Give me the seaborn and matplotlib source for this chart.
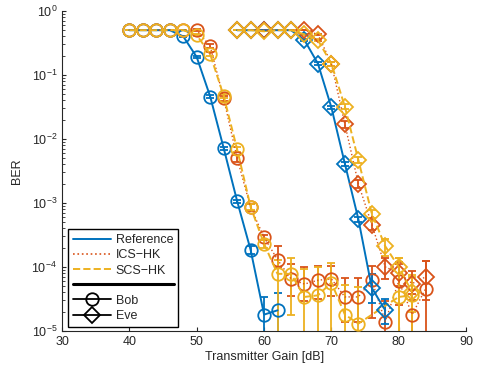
import numpy as np
import matplotlib
matplotlib.use("Agg")
import matplotlib.pyplot as plt
import seaborn as sns
from matplotlib.lines import Line2D
from matplotlib.legend_handler import HandlerBase

nan = np.nan

# transmitter gain [dB]
gain_bob = [40, 42, 44, 46, 48, 50, 52, 54, 56, 58, 60, 62, 64, 66, 68, 70, 72, 74, 76, 78, 80, 82, 84]
gain_eve = [56, 58, 60, 62, 64, 66, 68, 70, 72, 74, 76, 78, 80, 82, 84]

# Bob - BER and error bar extents (below / above)
bob_ref = [0.5, 0.5, 0.5, 0.5, 0.4, 0.19, 0.046, 0.0072, 0.00107, 1.85e-4, 1.8e-5, 2.1e-5,
           nan, nan, nan, nan, nan, nan, nan, nan, nan, nan, nan]
bob_ref_lo = [0, 0, 0, 0, 0.01, 0.008, 0.002, 4e-4, 6e-5, 2.5e-5, 1.8e-5, 2.1e-5,
              0, 0, 0, 0, 0, 0, 0, 0, 0, 0, 0]
bob_ref_hi = [0, 0, 0, 0, 0.01, 0.008, 0.002, 4e-4, 6e-5, 2.5e-5, 1.6e-5, 1.8e-5,
              0, 0, 0, 0, 0, 0, 0, 0, 0, 0, 0]

bob_ics = [0.5, 0.5, 0.5, 0.5, 0.5, 0.5, 0.28, 0.043, 0.005, 8.5e-4, 2.9e-4, 1.3e-4,
           6.5e-5, 5.4e-5, 6.2e-5, 6.5e-5, 3.4e-5, 3.4e-5, 6.2e-5, 1.4e-5, 6e-5, 1.8e-5, 4.6e-5]
bob_ics_lo = [0, 0, 0, 0, 0, 0.02, 0.02, 0.004, 6e-4, 1e-4, 3e-5, 3e-5,
              3e-5, 2.5e-5, 3e-5, 3e-5, 2e-5, 2e-5, 4.6e-5, 1.4e-5, 3.5e-5, 1.8e-5, 4.6e-5]
bob_ics_hi = [0, 0, 0, 0, 0, 0.02, 0.02, 0.004, 6e-4, 1e-4, 3e-5, 8e-5,
              4.5e-5, 4.5e-5, 4e-5, 4e-5, 3.2e-5, 3.2e-5, 4e-5, 1.5e-5, 5e-5, 2e-5, 8e-5]

bob_scs = [0.5, 0.5, 0.5, 0.5, 0.5, 0.42, 0.21, 0.047, 0.0069, 8.7e-4, 2.3e-4, 7.8e-5,
           7.8e-5, 3.4e-5, 3.6e-5, 5.7e-5, 1.8e-5, 1.3e-5, nan, nan, 3.4e-5, 3.6e-5, nan]
bob_scs_lo = [0, 0, 0, 0, 0, 0.02, 0.015, 0.004, 7e-4, 1e-4, 3e-5, 7.8e-5,
              6e-5, 3.4e-5, 3.6e-5, 5.7e-5, 1.8e-5, 1.3e-5, 0, 0, 3.4e-5, 3.6e-5, 0]
bob_scs_hi = [0, 0, 0, 0, 0, 0.02, 0.015, 0.004, 7e-4, 1e-4, 3e-5, 5e-5,
              6e-5, 6e-5, 6.5e-5, 6e-5, 3.4e-5, 3.6e-5, 0, 0, 1.05e-4, 4e-5, 0]

# Eve
eve_ref = [0.5, 0.5, 0.5, 0.5, 0.5, 0.35, 0.15, 0.031, 0.0041, 5.6e-4, 4.7e-5, 2.1e-5, nan, nan, nan]
eve_ref_lo = [0, 0, 0, 0, 0, 0.01, 0.008, 0.002, 3e-4, 5e-5, 2e-5, 8e-6, 0, 0, 0]
eve_ref_hi = [0, 0, 0, 0, 0, 0.01, 0.008, 0.002, 3e-4, 5e-5, 3e-5, 1e-5, 0, 0, 0]

eve_ics = [0.5, 0.5, 0.5, 0.5, 0.5, 0.5, 0.43, 0.15, 0.017, 0.002, 4.6e-4, 1.0e-4, 8e-5, 5.5e-5, 7e-5]
eve_ics_lo = [0, 0, 0, 0, 0, 0, 0.01, 0.01, 0.002, 3e-4, 8e-5, 3.5e-5, 3e-5, 2.5e-5, 4e-5]
eve_ics_hi = [0, 0, 0, 0, 0, 0, 0.01, 0.01, 0.002, 3e-4, 8e-5, 4e-5, 4e-5, 3e-5, 5.5e-5]

eve_scs = [0.5, 0.5, 0.48, 0.5, 0.5, 0.43, 0.35, 0.15, 0.032, 0.0047, 6.8e-4, 2.1e-4, 1.0e-4, 4e-5, nan]
eve_scs_lo = [0, 0, 0, 0, 0, 0.01, 0.01, 0.01, 0.003, 5e-4, 1e-4, 6e-5, 1e-4, 2e-5, 0]
eve_scs_hi = [0, 0, 0, 0, 0, 0.01, 0.01, 0.01, 0.003, 5e-4, 1e-4, 6e-5, 4e-5, 3e-5, 0]

blue, red, yellow = "#0072BD", "#D95319", "#EDB120"

sns.set_style("ticks")
plt.rcParams["font.family"] = ["Liberation Sans", "DejaVu Sans"]
plt.rcParams["mathtext.fontset"] = "custom"
plt.rcParams["mathtext.rm"] = "Liberation Sans"
plt.rcParams["mathtext.it"] = "Liberation Sans:italic"

fig = plt.figure(figsize=(4.81, 3.71), dpi=100)
ax = fig.add_axes([0.129, 0.108, 0.840, 0.8625])
ax.set_yscale("log")


def draw(x, y, lo, hi, color, ls, marker, lw):
    ax.errorbar(x, y, yerr=[lo, hi], fmt="none", ecolor=color, elinewidth=1.3,
                capsize=3, capthick=1.3, zorder=2)
    sns.lineplot(x=x, y=y, ax=ax, color=color, linestyle=ls, linewidth=lw,
                 marker=marker, markersize=9 if marker == "o" else 8.5,
                 markerfacecolor="none", markeredgecolor=color,
                 markeredgewidth=1.3, zorder=3)


draw(gain_bob, bob_ref, bob_ref_lo, bob_ref_hi, blue, "-", "o", 1.4)
draw(gain_bob, bob_ics, bob_ics_lo, bob_ics_hi, red, ":", "o", 1.0)
draw(gain_bob, bob_scs, bob_scs_lo, bob_scs_hi, yellow, "--", "o", 1.4)
draw(gain_eve, eve_ref, eve_ref_lo, eve_ref_hi, blue, "-", "D", 1.4)
draw(gain_eve, eve_ics, eve_ics_lo, eve_ics_hi, red, ":", "D", 1.0)
draw(gain_eve, eve_scs, eve_scs_lo, eve_scs_hi, yellow, "--", "D", 1.4)

ax.set_xlim(30, 90)
ax.set_ylim(1e-5, 1e0)
ax.set_xticks([30, 40, 50, 60, 70, 80, 90])
ax.set_xlabel("Transmitter Gain [dB]", fontsize=9, labelpad=2)
ax.set_ylabel("BER", fontsize=9, labelpad=6)
ax.tick_params(direction="in", labelsize=9, length=3, color="#262626", width=0.8)
ax.tick_params(which="minor", direction="in", length=2, color="#262626", width=0.6)
for s in ["left", "bottom"]:
    ax.spines[s].set_color("#262626")
    ax.spines[s].set_linewidth(0.8)
sns.despine(ax=ax)


class SeparatorHandler(HandlerBase):
    def create_artists(self, legend, orig_handle, xdescent, ydescent, width, height, fontsize, trans):
        y = height / 2 - ydescent
        line = Line2D([-xdescent, -xdescent + width * 2.7], [y, y], color="black", lw=2.2)
        line.set_transform(trans)
        return [line]


sep = Line2D([], [], color="black")
handles = [
    Line2D([], [], color=blue, lw=1.4, ls="-"),
    Line2D([], [], color=red, lw=1.2, ls=":"),
    Line2D([], [], color=yellow, lw=1.4, ls="--"),
    sep,
    Line2D([], [], color="black", lw=1.3, marker="o", markersize=9, markerfacecolor="none", markeredgewidth=1.3),
    Line2D([], [], color="black", lw=1.3, marker="D", markersize=8.5, markerfacecolor="none", markeredgewidth=1.3),
]
labels = ["Reference", "ICS\u2212HK", "SCS\u2212HK", " ", "Bob", "Eve"]
leg = ax.legend(handles, labels, loc="lower left", bbox_to_anchor=(0.015, 0.0125),
                borderaxespad=0, fontsize=9, handlelength=3.0, handletextpad=0.4,
                labelspacing=0.25, borderpad=0.4, fancybox=False, framealpha=1,
                edgecolor="black", handler_map={sep: SeparatorHandler()})
leg.get_frame().set_linewidth(1.0)

fig.savefig("out.png", dpi=100)
